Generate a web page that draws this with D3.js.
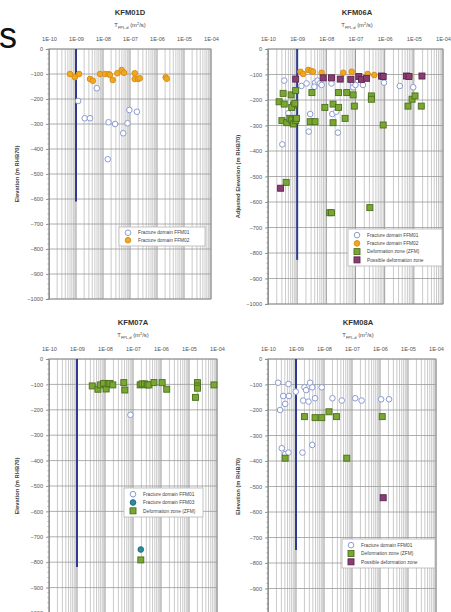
<!DOCTYPE html>
<html><head><meta charset="utf-8">
<script src="https://cdn.jsdelivr.net/npm/d3@7"></script>
<style>body{margin:0;background:#fff;overflow:hidden} svg{display:block}</style>
</head><body>
<svg id="c" width="451" height="612"></svg>
<script>
// ---------- data ----------
const xTickValues = [1e-10, 1e-9, 1e-8, 1e-7, 1e-6, 1e-5, 1e-4];
const xTickLabels = ["1E-10", "1E-09", "1E-08", "1E-07", "1E-06", "1E-05", "1E-04"];
const yTickValues = [0, -100, -200, -300, -400, -500, -600, -700, -800, -900, -1000];
const panelTitles = ["KFM01D", "KFM06A", "KFM07A", "KFM08A"];
const yAxisTitles = ["Elevation (m RHB70)", "Adjusted Elevation (m RHB70)", "Elevation (m RHB70)", "Elevation (m RHB70)"];
const limitT = [1e-9, 1e-9, 1e-9, 1e-9];
const limitBottom = [-610, -827, -819, -749];

const seriesNames = {
  ffm01: "Fracture domain FFM01",
  ffm02: "Fracture domain FFM02",
  ffm03: "Fracture domain FFM03",
  dz: "Deformation zone (ZFM)",
  pdz: "Possible deformation zone"
};

// KFM01D  [T (m2/s), elevation (m)]
const kfm01d_ffm01 = [[5.9e-9,-157],[1.2e-9,-208],[2.1e-9,-277],[3.3e-9,-277],[1.6e-8,-293],[2.8e-8,-300],
  [8.1e-8,-297],[9.5e-8,-244],[1.8e-7,-251],[5.6e-8,-337],[1.5e-8,-441]];
const kfm01d_ffm02 = [[6.0e-10,-100],[9.1e-10,-113],[1.3e-9,-100],[3.3e-9,-120],[4.2e-9,-127],[7.8e-9,-100],
  [1.2e-8,-100],[1.6e-8,-100],[1.8e-8,-104],[2.3e-8,-124],[3.4e-8,-97],[4.9e-8,-84],[6.0e-8,-95],
  [1.5e-7,-97],[1.5e-7,-120],[2.0e-7,-120],[2.3e-7,-117],[2.1e-6,-113],[2.3e-6,-119]];

// KFM06A
const kfm06a_ffm01 = [[3.6e-10,-124],[3.1e-10,-374],[1.4e-9,-145],[2.1e-9,-135],[4.1e-9,-132],[5.0e-9,-124],
  [6.0e-9,-135],[3.9e-9,-148],[6.9e-9,-141],[1.5e-8,-135],[8.3e-8,-135],[8.3e-8,-150],[1.0e-7,-141],
  [1.8e-7,-141],[9.5e-7,-132],[3.3e-6,-145],[9.5e-6,-150],[2.8e-9,-255],[1.6e-8,-255],[2.2e-8,-246],
  [2.5e-8,-328],[2.5e-9,-324],[5.0e-10,-252]];
const kfm06a_ffm02 = [[1.3e-9,-89],[1.6e-9,-98],[2.4e-9,-82],[3.0e-9,-86],[3.5e-9,-89],[6.9e-9,-93],
  [3.8e-8,-93],[7.4e-8,-89],[2.6e-7,-98],[4.4e-7,-102],[7.2e-6,-106]];
const kfm06a_dz = [[2.4e-10,-207],[3.3e-10,-174],[3.6e-10,-216],[6.2e-10,-180],[8.9e-10,-163],[7.4e-10,-220],
  [6.5e-10,-229],[8.3e-10,-213],[3.0e-10,-281],[4.4e-10,-289],[5.6e-10,-272],[6.5e-10,-278],[7.4e-10,-294],
  [8.9e-10,-281],[9.5e-10,-272],[2.8e-9,-285],[4.1e-9,-285],[3.2e-9,-171],[8.9e-9,-229],[1.7e-8,-216],
  [2.6e-8,-171],[2.6e-8,-229],[1.7e-8,-289],[4.4e-8,-272],[5.0e-8,-171],[8.3e-8,-180],[9.1e-8,-224],
  [3.5e-7,-184],[3.5e-7,-197],[8.9e-7,-298],[6.3e-6,-224],[8.7e-6,-197],[1.1e-5,-184],[1.8e-5,-224],
  [4.2e-10,-523],[1.3e-8,-642],[1.5e-8,-642],[3.1e-7,-622]];
const kfm06a_pdz = [[8.9e-10,-118],[7.8e-9,-113],[1.5e-8,-113],[3.0e-8,-118],[6.9e-8,-119],[1.3e-7,-108],
  [1.6e-7,-119],[2.4e-7,-115],[7.8e-7,-106],[8.9e-7,-108],[5.6e-6,-106],[6.8e-6,-108],[1.9e-5,-106],
  [2.7e-10,-546]];

// KFM07A
const kfm07a_ffm01 = [[8.1e-8,-220]];
const kfm07a_ffm03 = [[1.9e-7,-750]];
const kfm07a_dz = [[3.5e-9,-106],[5.6e-9,-119],[6.8e-9,-102],[8.9e-9,-96],[1.1e-8,-118],[1.3e-8,-98],
  [1.5e-8,-96],[1.9e-8,-102],[4.7e-8,-93],[5.1e-8,-122],[1.8e-7,-102],[2.1e-7,-98],[2.6e-7,-98],
  [3.2e-7,-102],[3.7e-7,-102],[5.6e-7,-93],[1.1e-6,-93],[1.6e-6,-119],[1.7e-5,-151],[2.0e-5,-93],
  [2.0e-5,-106],[2.0e-5,-115],[7.8e-5,-102],[1.9e-7,-791]];

// KFM08A
const kfm08a_ffm01 = [[2.3e-10,-93],[3.5e-10,-145],[4.1e-10,-176],[5.4e-10,-98],[5.6e-10,-145],[2.7e-10,-200],
  [9.8e-10,-128],[1.8e-9,-163],[2.0e-9,-111],[2.3e-9,-122],[3.2e-9,-93],[3.8e-9,-111],[2.8e-9,-167],
  [4.8e-9,-154],[8.3e-9,-111],[2.0e-8,-154],[4.3e-8,-163],[1.3e-7,-154],[2.2e-7,-163],[1.1e-6,-158],
  [2.1e-6,-158],[3.1e-10,-350],[4.1e-10,-373],[5.4e-10,-367],[1.7e-9,-367],[3.8e-9,-337]];
const kfm08a_dz = [[2.0e-9,-226],[4.8e-9,-230],[8.3e-9,-230],[1.5e-8,-207],[2.8e-8,-226],[1.2e-6,-226],
  [4.1e-10,-389],[6.5e-8,-389]];
const kfm08a_pdz = [[1.3e-6,-544]];

const panelSeries = [
  [["ffm01", kfm01d_ffm01], ["ffm02", kfm01d_ffm02]],
  [["ffm01", kfm06a_ffm01], ["ffm02", kfm06a_ffm02], ["dz", kfm06a_dz], ["pdz", kfm06a_pdz]],
  [["ffm01", kfm07a_ffm01], ["ffm03", kfm07a_ffm03], ["dz", kfm07a_dz]],
  [["ffm01", kfm08a_ffm01], ["dz", kfm08a_dz], ["pdz", kfm08a_pdz]]
];

// ---------- layout / style ----------
const layout = [
  {l:49,  r:211, t:49,  b:299, tx:130, ty:15,  xl:27,  tl:41,  yx:19,  leg:{x:119,y:227,w:86,h:19}},
  {l:268, r:443, t:49,  b:304, tx:357, ty:15,  xl:27,  tl:41,  yx:240, leg:{x:348,y:229,w:94,h:37}},
  {l:49,  r:217, t:359, b:613, tx:133, ty:325, xl:337, tl:351, yx:19,  leg:{x:124,y:488,w:79,h:29}},
  {l:268, r:436, t:359, b:614, tx:358, ty:325, xl:337, tl:351, yx:240, leg:{x:342,y:539,w:93,h:29}}
];
const styles = {
  ffm01: {shape:"circle", fill:"#ffffff", stroke:"#8c9bd2"},
  ffm02: {shape:"circle", fill:"#f2a81e", stroke:"#d9901a"},
  ffm03: {shape:"circle", fill:"#2b8c9c", stroke:"#1d6b78"},
  dz:    {shape:"square", fill:"#79a832", stroke:"#4d6e1c"},
  pdz:   {shape:"square", fill:"#8a3d72", stroke:"#5c2550"}
};
const FONT = "Arial, 'Liberation Sans', sans-serif";
const svg = d3.select("#c");

// stray heading fragment at top-left
svg.append("text").attr("x", -1).attr("y", 48).attr("font-family", FONT)
  .attr("font-size", 36).attr("fill", "#111").text("s");

function drawMarker(g, key, x, y) {
  const s = styles[key];
  if (s.shape === "circle") {
    g.append("circle").attr("cx", x).attr("cy", y).attr("r", 2.8)
      .attr("fill", s.fill).attr("stroke", s.stroke).attr("stroke-width", 1);
  } else {
    g.append("rect").attr("x", x - 3).attr("y", y - 3).attr("width", 6).attr("height", 6)
      .attr("fill", s.fill).attr("stroke", s.stroke).attr("stroke-width", 0.9);
  }
}

layout.forEach((L, i) => {
  const g = svg.append("g");
  const x = d3.scaleLog().domain([1e-10, 1e-4]).range([L.l, L.r]);
  const y = d3.scaleLinear().domain([0, -1000]).range([L.t, L.b]);

  // minor vertical grid
  const minor = [];
  for (let e = -10; e < -4; e++) for (let m = 2; m <= 9; m++) minor.push(m * Math.pow(10, e));
  g.append("g").selectAll("line").data(minor).join("line")
    .attr("x1", d => x(d)).attr("x2", d => x(d)).attr("y1", L.t).attr("y2", L.b)
    .attr("stroke", "#cacaca").attr("stroke-width", 1);
  // major vertical grid
  g.append("g").selectAll("line").data(xTickValues).join("line")
    .attr("x1", d => x(d)).attr("x2", d => x(d)).attr("y1", L.t).attr("y2", L.b)
    .attr("stroke", "#8f8f8f").attr("stroke-width", 0.9);
  // horizontal grid
  g.append("g").selectAll("line").data(yTickValues).join("line")
    .attr("x1", L.l).attr("x2", L.r).attr("y1", d => y(d)).attr("y2", d => y(d))
    .attr("stroke", "#9a9a9a").attr("stroke-width", 0.8);
  // frame
  g.append("rect").attr("x", L.l).attr("y", L.t).attr("width", L.r - L.l).attr("height", L.b - L.t)
    .attr("fill", "none").attr("stroke", "#8a8a8a").attr("stroke-width", 0.8);

  // y axis with labels and minor ticks
  const yAxis = d3.axisLeft(y).tickValues(yTickValues).tickSize(3).tickPadding(3).tickFormat(d3.format("d"));
  const ya = g.append("g").attr("transform", `translate(${L.l},0)`).call(yAxis);
  ya.select(".domain").attr("stroke", "#8a8a8a").attr("stroke-width", 0.8);
  ya.selectAll(".tick line").attr("stroke", "#8a8a8a").attr("stroke-width", 0.8);
  ya.selectAll("text").attr("font-family", FONT).attr("font-size", 5.6).attr("fill", "#555");
  const yMinor = d3.range(0, -1001, -20);
  g.append("g").selectAll("line").data(yMinor).join("line")
    .attr("x1", L.l - 1.6).attr("x2", L.l).attr("y1", d => y(d)).attr("y2", d => y(d))
    .attr("stroke", "#8a8a8a").attr("stroke-width", 0.6);

  // x axis (top)
  const xAxis = d3.axisTop(x).tickValues(xTickValues).tickSize(0).tickPadding(0)
    .tickFormat((d, k) => xTickLabels[k]);
  const xa = g.append("g").attr("transform", `translate(0,${L.tl})`).call(xAxis);
  xa.select(".domain").remove();
  xa.selectAll("text").attr("font-family", FONT).attr("font-size", 5.6).attr("fill", "#555");

  // titles
  g.append("text").attr("x", L.tx).attr("y", L.ty).attr("text-anchor", "middle")
    .attr("font-family", FONT).attr("font-weight", "bold").attr("font-size", 7.6).attr("fill", "#333")
    .text(panelTitles[i]);
  const xt = g.append("text").attr("x", L.tx).attr("y", L.xl).attr("text-anchor", "middle")
    .attr("font-family", FONT).attr("font-size", 5.8).attr("fill", "#444");
  xt.append("tspan").text("T");
  xt.append("tspan").attr("font-size", 4).attr("dy", 1.5).text("FPL,d");
  xt.append("tspan").attr("dy", -1.5).text(" (m");
  xt.append("tspan").attr("font-size", 4).attr("dy", -2).text("2");
  xt.append("tspan").attr("dy", 2).text("/s)");
  g.append("text").attr("transform", `translate(${L.yx},${y(-500)}) rotate(-90)`)
    .attr("text-anchor", "middle").attr("font-family", FONT).attr("font-weight", "bold")
    .attr("font-size", 5.8).attr("fill", "#444").text(yAxisTitles[i]);

  // lower measurement limit line
  g.append("line").attr("x1", x(limitT[i])).attr("x2", x(limitT[i]))
    .attr("y1", y(0)).attr("y2", y(limitBottom[i]))
    .attr("stroke", "#2d3a8e").attr("stroke-width", 2);

  // points
  panelSeries[i].forEach(([key, data]) => {
    const sg = g.append("g");
    data.forEach(d => drawMarker(sg, key, x(d[0]), y(d[1])));
  });

  // legend
  const lg = g.append("g");
  lg.append("rect").attr("x", L.leg.x).attr("y", L.leg.y).attr("width", L.leg.w).attr("height", L.leg.h)
    .attr("fill", "#fff").attr("stroke", "#b5b5b5").attr("stroke-width", 0.8);
  const n = panelSeries[i].length;
  const step = (L.leg.h - 4) / n;
  panelSeries[i].forEach(([key], k) => {
    const cy = L.leg.y + 2 + step * (k + 0.5);
    drawMarker(lg, key, L.leg.x + 9, cy);
    lg.append("text").attr("x", L.leg.x + 19).attr("y", cy + 1.7)
      .attr("font-family", FONT).attr("font-size", 4.8).attr("fill", "#444").text(seriesNames[key]);
  });
});
</script>
</body></html>
